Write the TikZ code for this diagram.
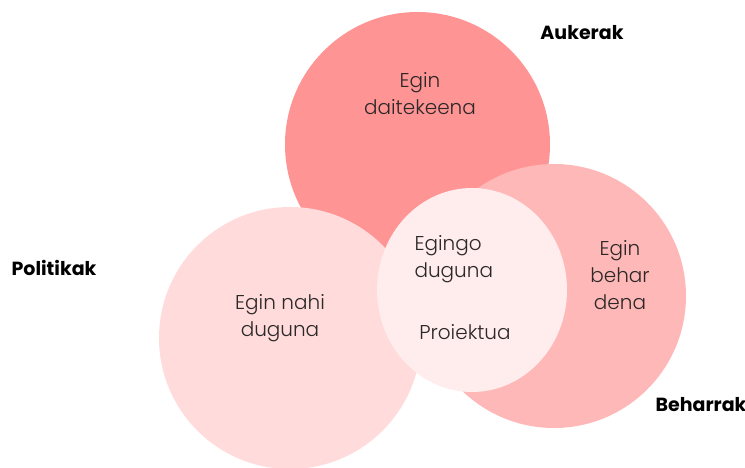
\documentclass[tikz,border=0pt]{standalone}
\usepackage{fontspec}
\setmainfont{Poppins}
\newfontfamily\thinfont{Poppins Light}
\usepackage{tikz}
\usetikzlibrary{positioning,shapes.geometric}
\definecolor{aukcol}{RGB}{255,148,148}
\definecolor{behcol}{RGB}{255,184,184}
\definecolor{polcol}{RGB}{255,219,219}
\definecolor{procol}{RGB}{255,236,236}
\definecolor{txtcol}{RGB}{45,40,40}
\tikzset{
  disc/.style={circle, inner sep=0pt, minimum size=#1},
  inner text/.style={text=txtcol, font=\thinfont\fontsize{20}{27}\selectfont},
  outer text/.style={text=black, font=\fontsize{19}{23}\selectfont\bfseries}
}

\begin{document}
\begin{tikzpicture}[x=1pt, y=-1pt]
        \useasboundingbox (0,0) rectangle (745,468);

        \node[disc=265pt, fill=aukcol] (aukerak) at (417.5, 144.5) {};
        \node[disc=264pt, fill=behcol] (beharrak) at (554, 296) {};
        \node[disc=262pt, fill=polcol] (politikak) at (290, 338) {};
        \node[ellipse, inner sep=0pt, minimum width=190pt, minimum height=204pt, fill=procol] (proiektua) at (472, 290) {};

        \node[inner text, align=center] (daiteke) at (420, 94) {Egin\\daitekeena};
        \node[inner text, align=center] (nahi) at (280, 318) {Egin nahi\\duguna};
        \node[inner text, align=center] (behar) at (620, 275) {Egin\\behar\\dena};
        \node[inner text, align=left, anchor=west] (egingo) at (411, 259) {Egingo\\duguna};
        \node[inner text] (proi) at (465, 332) {Proiektua};

        \node[outer text] (aukl) at (582, 33) {Aukerak};
        \node[outer text] (poll) at (54, 268) {Politikak};
        \node[outer text] (behl) at (701, 405) {Beharrak};
    \end{tikzpicture}
\end{document}
